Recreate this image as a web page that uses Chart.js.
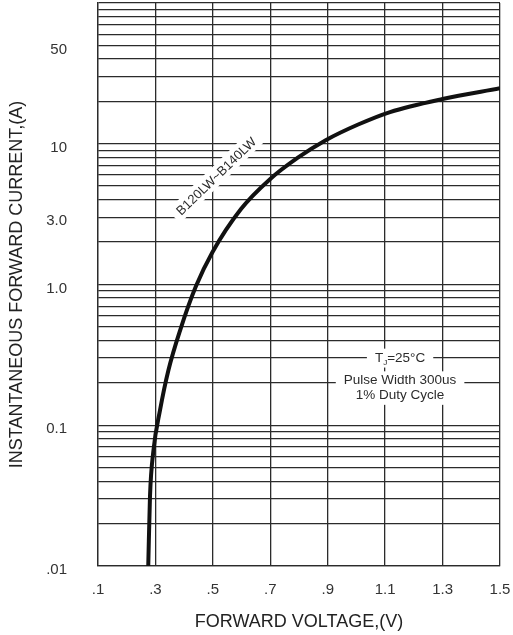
<!DOCTYPE html>
<html>
<head>
<meta charset="utf-8">
<script src="https://cdn.jsdelivr.net/npm/chart.js@4.4.0/dist/chart.umd.min.js"></script>
<style>
    html, body { margin: 0; padding: 0; background: #fff; }
    #wrap { width: 513px; height: 635px; position: relative; }
</style>
</head>
<body>
<div id="wrap"><canvas id="chart"></canvas></div>
<script>
// forward characteristic
const voltage = [0.275, 0.281, 0.293, 0.316, 0.345, 0.386, 0.441, 0.498, 0.598, 0.698, 0.796, 0.893, 1.006, 1.117, 1.3, 1.5];
const current = [0.010, 0.031, 0.066, 0.128, 0.245, 0.473, 0.97, 1.69, 3.44, 5.58, 7.96, 10.6, 13.7, 16.8, 20.8, 24.8];

// axis ticks
const xTickValues = [0.1, 0.3, 0.5, 0.7, 0.9, 1.1, 1.3, 1.5];
const xTickLabels = ['.1', '.3', '.5', '.7', '.9', '1.1', '1.3', '1.5'];
const yLabelValues = [0.01, 0.1, 1, 3, 10, 50];
const yLabelText = ['.01', '0.1', '1.0', '3.0', '10', '50'];
const yDecades = [0.01, 0.1, 1, 10];
const yMantissas = [1, 2, 3, 4, 5, 6, 7, 8, 9];

// annotations (positions in data units)
const curveLabel = 'B120LW~B140LW';
const curveLabelAt = [0.511, 5.9];
const curveLabelAngle = -44;
const condNotes = ['T_J=25°C', 'Pulse Width 300us', '1% Duty Cycle'];
const condVoltage = 1.152;
const condCurrent = [0.30, 0.207, 0.163];

const FONT = '"Liberation Sans", Arial, Helvetica, sans-serif';
const INK = '#2b2b2b';

// all log grid values 0.01 .. 100
const yGridValues = [];
yDecades.forEach(d => yMantissas.forEach(m => yGridValues.push(+(d * m).toPrecision(3))));
yGridValues.push(100);

function yLabelFor(v) {
    const i = yLabelValues.findIndex(l => Math.abs(l - v) / l < 1e-6);
    return i < 0 ? '' : yLabelText[i];
}

// text with "_X" subscripts, centred at (cx, cy), on a white patch
function drawRich(ctx, text, cx, cy, size) {
    const parts = [];
    for (let i = 0; i < text.length; i++) {
        if (text[i] === '_' && i + 1 < text.length) {
            parts.push({ t: text[i + 1], sub: true });
            i++;
        } else {
            parts.push({ t: text[i], sub: false });
        }
    }
    let total = 0;
    parts.forEach(p => {
        ctx.font = (p.sub ? size * 0.6 : size) + 'px ' + FONT;
        p.w = ctx.measureText(p.t).width;
        total += p.w;
    });
    ctx.fillStyle = '#fff';
    ctx.fillRect(cx - total / 2 - 8, cy - size * 0.7, total + 16, size * 1.4);
    ctx.fillStyle = INK;
    ctx.textBaseline = 'middle';
    ctx.textAlign = 'left';
    let px = cx - total / 2;
    parts.forEach(p => {
        ctx.font = (p.sub ? size * 0.6 : size) + 'px ' + FONT;
        ctx.fillText(p.t, px, p.sub ? cy + size * 0.35 : cy);
        px += p.w;
    });
}

const notesPlugin = {
    id: 'notes',
    beforeDatasetsDraw(chart) {
        const { ctx, scales: { x, y } } = chart;

        // rotated curve label
        ctx.save();
        ctx.translate(x.getPixelForValue(curveLabelAt[0]), y.getPixelForValue(curveLabelAt[1]));
        ctx.rotate(curveLabelAngle * Math.PI / 180);
        ctx.font = '13px ' + FONT;
        const w = ctx.measureText(curveLabel).width;
        ctx.fillStyle = '#fff';
        ctx.fillRect(-w / 2 - 6, -9, w + 12, 18);
        ctx.fillStyle = INK;
        ctx.textAlign = 'center';
        ctx.textBaseline = 'middle';
        ctx.fillText(curveLabel, 0, 1);
        ctx.restore();

        // test conditions
        ctx.save();
        const cx = x.getPixelForValue(condVoltage);
        condNotes.forEach((t, i) => {
            drawRich(ctx, t, cx, y.getPixelForValue(condCurrent[i]), 13.5);
        });
        ctx.restore();
    }
};

new Chart(document.getElementById('chart'), {
    type: 'line',
    data: {
        datasets: [{
            data: voltage.map((v, i) => ({ x: v, y: current[i] })),
            borderColor: '#111',
            borderWidth: 4,
            pointRadius: 0,
            cubicInterpolationMode: 'monotone',
            fill: false
        }]
    },
    options: {
        responsive: true,
        maintainAspectRatio: false,
        animation: false,
        layout: { padding: { left: 0, right: 13, top: 3, bottom: 0 } },
        plugins: {
            legend: { display: false },
            tooltip: { enabled: false }
        },
        scales: {
            x: {
                type: 'linear',
                min: 0.1,
                max: 1.5,
                afterBuildTicks: s => { s.ticks = xTickValues.map(v => ({ value: v })); },
                afterFit: s => {
                    s.height = 69;
                    s.paddingLeft = 0;
                    s.paddingRight = 0;
                },
                ticks: {
                    autoSkip: false,
                    maxRotation: 0,
                    padding: 15,
                    color: '#333',
                    font: { family: FONT, size: 15 },
                    callback: v => {
                        const i = xTickValues.findIndex(t => Math.abs(t - v) < 1e-6);
                        return i < 0 ? '' : xTickLabels[i];
                    }
                },
                grid: { color: INK, lineWidth: 1.3, drawTicks: false },
                border: { color: INK, width: 1.3 },
                title: {
                    display: true,
                    text: 'FORWARD VOLTAGE,(V)',
                    color: '#222',
                    font: { family: FONT, size: 18 },
                    padding: { top: 4, bottom: 2 }
                }
            },
            y: {
                type: 'logarithmic',
                min: 0.01,
                max: 100,
                afterBuildTicks: s => { s.ticks = yGridValues.map(v => ({ value: v })); },
                afterFit: s => {
                    s.width = 98;
                    s.paddingTop = 0;
                    s.paddingBottom = 0;
                },
                ticks: {
                    autoSkip: false,
                    padding: 31,
                    labelOffset: 4,
                    color: '#333',
                    font: { family: FONT, size: 15 },
                    callback: v => yLabelFor(v)
                },
                grid: { color: INK, lineWidth: 1.3, drawTicks: false },
                border: { color: INK, width: 1.3 },
                title: {
                    display: true,
                    text: 'INSTANTANEOUS FORWARD CURRENT,(A)',
                    color: '#222',
                    font: { family: FONT, size: 18 },
                    padding: { top: 6, bottom: 4 }
                }
            }
        }
    },
    plugins: [notesPlugin]
});
</script>
</body>
</html>
